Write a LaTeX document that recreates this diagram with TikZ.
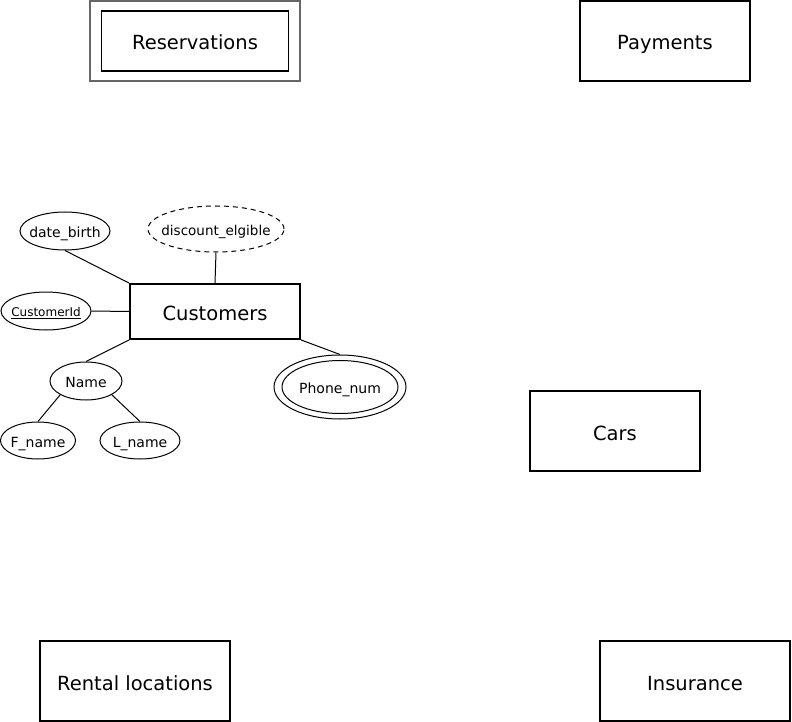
\documentclass[tikz,border=0pt]{standalone}
\usepackage{fontspec}
\setmainfont{DejaVu Sans}
\usetikzlibrary{shapes.geometric}
\newcommand{\lbl}[1]{\makebox[0pt]{#1}}
\begin{document}
\begin{tikzpicture}[x=1pt,y=-1pt,
  entity/.style={draw=black,line width=1.8pt,rectangle,inner sep=0pt,text height=19pt,text depth=1pt,font=\fontsize{19.5}{22}\selectfont},
  attr/.style={draw=black,line width=1pt,ellipse,inner sep=0pt,text height=13.5pt,text depth=0.3pt,font=\fontsize{14}{16}\selectfont},
  conn/.style={draw=black,line width=1pt}]
\useasboundingbox[fill=white] (0,0) rectangle (792,722);
% Entities
\node[draw=black!60,line width=1.8pt,rectangle,minimum width=210pt,minimum height=80pt] (resout) at (195,41) {};
\node[entity,minimum width=187pt,minimum height=60pt] (res) at (195,41) {Reservations};
\node[entity,minimum width=170pt,minimum height=80pt] (pay) at (665,41) {Payments};
\node[entity,minimum width=170pt,minimum height=55pt] (cust) at (215,311.5) {Customers};
\node[entity,minimum width=170pt,minimum height=80pt] (cars) at (615,431) {Cars};
\node[entity,minimum width=190pt,minimum height=80pt] (rent) at (135,681) {Rental locations};
\node[entity,minimum width=190pt,minimum height=80pt] (ins) at (695,681) {Insurance};
% Attributes
\node[attr,minimum width=90pt,minimum height=38pt] (db) at (65,231) {\lbl{date\_birth}};
\node[attr,dashed,dash pattern=on 5pt off 4pt,minimum width=136pt,minimum height=46pt,font=\fontsize{13.5}{16}\selectfont] (disc) at (216,229) {\lbl{discount\_elgible}};
\node[attr,minimum width=90pt,minimum height=38pt,text height=11.5pt,font=\fontsize{12}{14}\selectfont] (cid) at (46,311) {\lbl{\underline{CustomerId}}};
\node[attr,minimum width=72pt,minimum height=38pt] (name) at (86,381) {\lbl{Name}};
\node[attr,minimum width=75pt,minimum height=37pt] (fn) at (38,440.5) {\lbl{F\_name}};
\node[attr,minimum width=80pt,minimum height=37pt] (ln) at (140,440.5) {\lbl{L\_name}};
\node[attr,minimum width=132pt,minimum height=64pt] (phone) at (340,387) {};
\node[attr,minimum width=116pt,minimum height=53pt] (phonein) at (340,387) {\lbl{Phone\_num}};
% Connectors
\draw[conn] (db.south) -- (cust.north west);
\draw[conn] (disc.south) -- (cust.north);
\draw[conn] (cid.east) -- (cust.west);
\draw[conn] (cust.south west) -- (name.north);
\draw[conn] (cust.south east) -- (phone.north);
\draw[conn] (name.south west) -- (fn.north);
\draw[conn] (name.south east) -- (ln.north);
\end{tikzpicture}
\end{document}
